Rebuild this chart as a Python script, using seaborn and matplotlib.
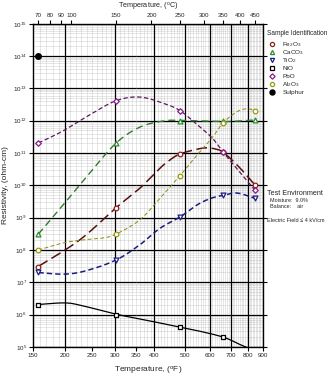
import numpy as np
import matplotlib
matplotlib.use("Agg")
import matplotlib.pyplot as plt
from matplotlib.lines import Line2D
from matplotlib.ticker import FixedLocator, LogLocator, NullFormatter, FixedFormatter
import seaborn as sns

# ---------------- data ----------------
temp_F = [158, 302, 482, 662, 842]          # 70,150,250,350,450 degC

fe2o3 = [3e7, 2e9, 9e10, 1.05e11, 1.05e10]
caco3 = [3e8, 2e11, 1e12, 9.5e11, 1.05e12]
tio2 = [2e7, 5e7, 1.05e9, 4.9e9, 4e9]
nio_F = [158, 302, 482, 662]
nio = [2e6, 1e6, 4e5, 2e5]
pbo = [2e11, 4.2e12, 2.05e12, 1.05e11, 7.2e9]
al2o3 = [1e8, 3.1e8, 2e10, 8.7e11, 2.05e12]
sulphur_F = [158]
sulphur = [1e14]

# curve traces (degF, log10 resistivity)
fe2o3_cF = [158, 227, 302, 360, 417, 449, 482, 547, 590, 625, 662, 743, 842]
fe2o3_cL = [7.49, 8.31, 9.31, 9.91, 10.53, 10.79, 10.97, 11.12, 11.16, 11.12, 11.02, 10.58, 10.02]
caco3_cF = [158, 196, 246, 302, 360, 427, 482, 575, 662, 743, 842]
caco3_cL = [8.49, 9.36, 10.38, 11.31, 11.80, 11.99, 12.01, 11.99, 11.97, 11.99, 12.02]
tio2_cF = [158, 200, 240, 302, 360, 417, 482, 547, 605, 662, 735, 842]
tio2_cL = [7.30, 7.25, 7.36, 7.69, 8.16, 8.67, 9.02, 9.40, 9.60, 9.69, 9.76, 9.60]
nio_cF = [158, 200, 230, 302, 388, 482, 547, 662, 743, 800, 842]
nio_cL = [6.31, 6.36, 6.28, 6.01, 5.80, 5.61, 5.50, 5.30, 5.09, 4.96, 4.80]
pbo_cF = [158, 196, 246, 302, 360, 427, 482, 547, 610, 662, 743, 842]
pbo_cL = [11.31, 11.67, 12.18, 12.62, 12.73, 12.54, 12.31, 11.87, 11.46, 11.02, 10.45, 9.86]
al2o3_cF = [158, 196, 233, 273, 302, 360, 417, 482, 547, 610, 662, 735, 795, 842]
al2o3_cL = [8.0, 8.21, 8.31, 8.37, 8.49, 8.93, 9.60, 10.30, 10.95, 11.48, 11.94, 12.28, 12.37, 12.31]

xticks_F = [150, 200, 250, 300, 350, 400, 500, 600, 700, 800, 900]
heavy_F = [200, 300, 400, 500, 600, 700, 800]
xticks_C = [70, 80, 90, 100, 150, 200, 250, 300, 350, 400, 450]
legend_labels = ["Fe$_2$O$_3$", "CaCO$_3$", "TiO$_2$", "NiO", "PbO", "Al$_2$O$_3$", "Sulphur"]

# ---------------- style ----------------
sns.set_theme(style="white")
plt.rcParams["font.family"] = ["Liberation Sans", "DejaVu Sans"]
plt.rcParams["mathtext.fontset"] = "custom"
plt.rcParams["mathtext.rm"] = "Liberation Sans"
plt.rcParams["mathtext.it"] = "Liberation Sans"
plt.rcParams["mathtext.default"] = "regular"


def fwd(F):
    F = np.asarray(F, dtype=float)
    with np.errstate(divide="ignore", invalid="ignore"):
        return -1000.0 / ((F - 32.0) * 5.0 / 9.0 + 273.15)


def inv(u):
    u = np.asarray(u, dtype=float)
    with np.errstate(divide="ignore", invalid="ignore"):
        return ((-1000.0 / u) - 273.15) * 9.0 / 5.0 + 32.0


def fwdC(C):
    C = np.asarray(C, dtype=float)
    with np.errstate(divide="ignore", invalid="ignore"):
        return -1000.0 / (C + 273.15)


def invC(u):
    u = np.asarray(u, dtype=float)
    with np.errstate(divide="ignore", invalid="ignore"):
        return (-1000.0 / u) - 273.15


def F2C(F):
    return (np.asarray(F, dtype=float) - 32.0) * 5.0 / 9.0


def smooth(xF, logy, n=16):
    P = np.column_stack([fwd(xF), np.asarray(logy, float)])
    P = np.vstack([P[0], P, P[-1]])
    t = np.linspace(0, 1, n, endpoint=False)[:, None]
    out = []
    for i in range(1, len(P) - 2):
        p0, p1, p2, p3 = P[i - 1], P[i], P[i + 1], P[i + 2]
        seg = 0.5 * (2 * p1 + (-p0 + p2) * t + (2 * p0 - 5 * p1 + 4 * p2 - p3) * t ** 2
                     + (-p0 + 3 * p1 - 3 * p2 + p3) * t ** 3)
        out.append(seg)
    out.append(P[-2][None, :])
    out = np.vstack(out)
    return inv(out[:, 0]), 10 ** out[:, 1]


fig = plt.figure(figsize=(3.30, 3.77), dpi=100)
ax = fig.add_axes([0.100, 0.080, 0.697, 0.857])
ax.set_xscale("function", functions=(fwd, inv))
ax.set_yscale("log")
xlim_F = (150, 900)
ax.set_xlim(*xlim_F)
ax.set_ylim(1e5, 1e15)

# grid
ax.xaxis.set_major_locator(FixedLocator(xticks_F))
ax.xaxis.set_major_formatter(FixedFormatter([str(v) for v in xticks_F]))
ax.xaxis.set_minor_locator(FixedLocator([v for v in range(160, 900, 10) if v not in xticks_F]))
ax.yaxis.set_major_locator(LogLocator(base=10, numticks=20))
ax.yaxis.set_minor_locator(LogLocator(base=10, subs=np.arange(2, 10), numticks=100))
ax.yaxis.set_minor_formatter(NullFormatter())
ax.grid(False)
ax.grid(True, which="minor", color="#aaaaaa", lw=0.4, ls=(0, (1, 1)))
ax.grid(True, which="major", axis="y", color="black", lw=0.9)
for v in heavy_F:
    ax.axvline(v, color="black", lw=0.9, zorder=1)
for v in [250, 350]:
    ax.axvline(v, color="#aaaaaa", lw=0.4, ls=(0, (1, 1)), zorder=1)
ax.set_axisbelow(True)

series = [
    (fe2o3_cF, fe2o3_cL, temp_F, fe2o3, "#8b2020", "o", (0, (7, 3)), 1.1, "#5a1010"),
    (caco3_cF, caco3_cL, temp_F, caco3, "#2e8b2e", "^", (0, (5, 3)), 1.0, "#2e7d2e"),
    (tio2_cF, tio2_cL, temp_F, tio2, "#1c1c80", "v", (0, (3.5, 2)), 1.1, "#1c1c80"),
    (nio_cF, nio_cL, nio_F, nio, "#000000", "s", "-", 0.9, "#000000"),
    (pbo_cF, pbo_cL, temp_F, pbo, "#8b1a8b", "D", (0, (3.5, 2)), 0.9, "#5c1a5c"),
    (al2o3_cF, al2o3_cL, temp_F, al2o3, "#9a9a10", "o", (0, (4, 2.5)), 0.7, "#8a8a10"),
]
msize = {"o": 11, "^": 12, "v": 12, "s": 10, "D": 8}
for cF, cL, pF, pv, col, mk, ls, lw, lcol in series:
    sx, sy = smooth(cF, cL)
    sns.lineplot(x=sx, y=sy, sort=False, estimator=None, color=lcol, linestyle=ls,
                 lw=lw, ax=ax, zorder=3)
    ax.scatter(pF, pv, marker=mk, s=msize[mk], facecolors="white", edgecolors=col,
               linewidths=0.9, zorder=4)
ax.scatter(sulphur_F, sulphur, marker="o", s=16, color="black", zorder=4)

# ticks / labels
ax.tick_params(axis="both", which="major", direction="out", length=3, width=0.8,
               labelsize=4.5, pad=1.5, color="black", left=True, bottom=True, right=True)
ax.tick_params(axis="both", which="minor", length=0)
for s in ax.spines.values():
    s.set_color("black")
    s.set_linewidth(1.0)
ax.set_xlabel("Temperature, ($^o$F)", fontsize=6.0, labelpad=5)
ax.set_ylabel("Resistivity, (ohm-cm)", fontsize=6.0, labelpad=3)

# top (degC) axis on the same reciprocal-temperature scale
top = ax.twiny()
top.set_xscale("function", functions=(fwdC, invC))
top.set_xlim(F2C(xlim_F[0]), F2C(xlim_F[1]))
top.xaxis.set_major_locator(FixedLocator(xticks_C))
top.xaxis.set_major_formatter(FixedFormatter([str(v) for v in xticks_C]))
top.xaxis.set_minor_locator(FixedLocator([]))
top.grid(False)
top.tick_params(axis="x", direction="out", length=3, width=0.8, labelsize=4.5, pad=1.5,
                color="black")
top.set_xlabel("Temperature, ($^o$C)", fontsize=5.2, labelpad=3)
for s in top.spines.values():
    s.set_visible(False)

# legend (marker-only entries, evenly spaced)
fig.text(0.808, 0.910, "Sample Identification", fontsize=4.7, va="center", ha="left")
leg_y0, leg_dy = 0.883, 0.0212
for i, lab in enumerate(legend_labels):
    yy = leg_y0 - i * leg_dy
    if i < len(series):
        col, mk = series[i][4], series[i][5]
        h = Line2D([0.824], [yy], transform=fig.transFigure, ls="none", marker=mk,
                   markersize=3.0 if mk != "D" else 2.7, markerfacecolor="white",
                   markeredgecolor=col, markeredgewidth=0.9)
    else:
        h = Line2D([0.824], [yy], transform=fig.transFigure, ls="none", marker="o",
                   markersize=3.6, color="black")
    fig.add_artist(h)
    fig.text(0.856, yy, lab, fontsize=4.6, va="center", ha="left")

fig.text(0.808, 0.488, "Test Environment", fontsize=5.2, va="center")
fig.text(0.818, 0.469, "Moisture:  9.0%", fontsize=3.9, va="center")
fig.text(0.818, 0.453, "Balance:    air", fontsize=3.9, va="center")
fig.text(0.808, 0.414, "Electric Field \u2264 4 kV/cm", fontsize=4.0, va="center")

fig.savefig("out.png", dpi=100, facecolor="white")
